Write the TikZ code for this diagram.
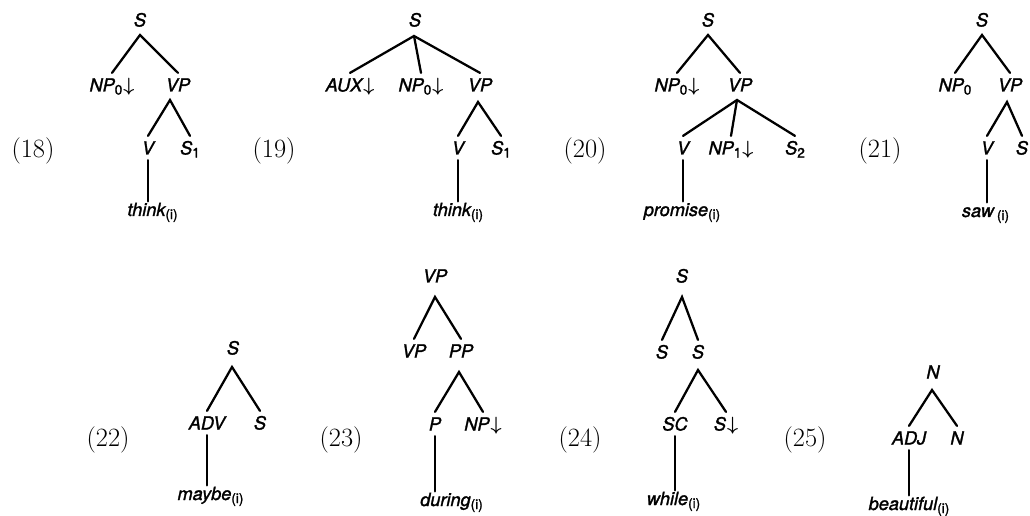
\documentclass[tikz,border=0pt]{standalone}
\usepackage{fontspec}
\newfontfamily\hv[FakeBold=1.5]{TeX Gyre Heros}
\newcommand\sub[1]{\raisebox{-0.32ex}{\fontsize{10.2}{12}\selectfont\upshape #1}}
\newcommand\dn{\hspace{0.8pt}$\boldsymbol{\downarrow}$}
\usepackage{amsmath,bm}
\renewcommand\dn{\hspace{0.8pt}$\bm{\downarrow}$}
\tikzset{
  cat/.style={font=\hv\itshape\fontsize{13.6}{16}\selectfont, text height=9.75pt, text depth=0pt, inner xsep=0pt, inner ysep=4pt},
  leaf/.style={font=\hv\itshape\fontsize{13.6}{16}\selectfont, anchor=base, text height=9.75pt, text depth=0pt, inner xsep=0pt, inner ysep=1pt},
  exno/.style={font=\fontsize{19.8}{24}\selectfont, inner sep=0pt},
  branch/.style={line width=1.7pt, line cap=round, line join=miter}
}
\begin{document}
\begin{tikzpicture}[x=0.75pt,y=-0.75pt]
\useasboundingbox (0,0) rectangle (1030,516);
% ---------- (18)
\node[exno] (l18) at (33,151) {(18)};
\node[cat] (s18) at (140,20) {S};
\node[cat] (np18) at (112,85) {NP\sub{0}\dn};
\node[cat] (vp18) at (178,85) {VP};
\node[cat] (v18) at (148,148) {V};
\node[cat] (sa18) at (190,148) {S\sub{1}};
\node[leaf] (w18) at (152.5,216) {think\sub{(i)}};
\coordinate (a18) at (140,35);
\coordinate (b18) at (170,100);
\draw[branch] (np18.north) -- (a18) -- (vp18.north);
\draw[branch] (v18.north) -- (b18) -- (sa18.north);
\draw[branch] (v18.south) -- (v18.south |- w18.north);
% ---------- (19)
\node[exno] (l19) at (274,151) {(19)};
\node[cat] (s19) at (415,20) {S};
\node[cat] (aux19) at (350,85) {AUX\dn};
\node[cat] (np19) at (421,85) {NP\sub{0}\dn};
\node[cat] (vp19) at (480,85) {VP};
\node[cat] (v19) at (458,148) {V};
\node[cat] (sa19) at (501,148) {S\sub{1}};
\node[leaf] (w19) at (458,216) {think\sub{(i)}};
\coordinate (a19) at (414,36);
\coordinate (b19) at (478,102);
\draw[branch] (aux19.north) -- (a19) -- (vp19.north);
\draw[branch] (a19) -- (np19.north);
\draw[branch] (v19.north) -- (b19) -- (sa19.north);
\draw[branch] (v19.south) -- (v19.south |- w19.north);
% ---------- (20)
\node[exno] (l20) at (585,151) {(20)};
\node[cat] (s20) at (708,20) {S};
\node[cat] (np20) at (677,85) {NP\sub{0}\dn};
\node[cat] (vp20) at (740,85) {VP};
\node[cat] (v20) at (683,148) {V};
\node[cat] (npa20) at (731,148) {NP\sub{1}\dn};
\node[cat] (sb20) at (795,148) {S\sub{2}};
\node[leaf] (w20) at (682,216) {promise\sub{(i)}};
\coordinate (a20) at (708,35);
\coordinate (b20) at (737,100);
\draw[branch] (np20.north) -- (a20) -- (vp20.north);
\draw[branch] (v20.north) -- (b20) -- (sb20.north);
\draw[branch] (b20) -- (npa20.north);
\draw[branch] (v20.south) -- (v20.south |- w20.north);
% ---------- (21)
\node[exno] (l21) at (880,151) {(21)};
\node[cat] (s21) at (982,20) {S};
\node[cat] (np21) at (955,85) {NP\sub{0}};
\node[cat] (vp21) at (1010,85) {VP};
\node[cat] (v21) at (987,148) {V};
\node[cat] (sa21) at (1022,148) {S};
\node[leaf] (w21) at (985.5,217) {saw\,\sub{(i)}};
\coordinate (a21) at (982,35);
\coordinate (b21) at (1007,102);
\draw[branch] (np21.north) -- (a21) -- (vp21.north);
\draw[branch] (v21.north) -- (b21) -- (sa21.north);
\draw[branch] (v21.south) -- (v21.south |- w21.north);
% ---------- (22)
\node[exno] (l22) at (108,440) {(22)};
\node[cat] (s22) at (233,348) {S};
\node[cat] (adv22) at (207,423) {ADV};
\node[cat] (sa22) at (260,423) {S};
\node[leaf] (w22) at (210.5,500) {maybe\sub{(i)}};
\coordinate (a22) at (232,367);
\draw[branch] (adv22.north) -- (a22) -- (sa22.north);
\draw[branch] (adv22.south) -- (adv22.south |- w22.north);
% ---------- (23)
\node[exno] (l23) at (341,440) {(23)};
\node[cat] (vp23) at (435,276) {VP};
\node[cat] (vpa23) at (414,351) {VP};
\node[cat] (pp23) at (461,351) {PP};
\node[cat] (p23) at (435,424) {P};
\node[cat] (np23) at (483,424) {NP\dn};
\node[leaf] (w23) at (451.5,506) {during\sub{(i)}};
\coordinate (a23) at (435,297);
\coordinate (b23) at (459,372);
\draw[branch] (vpa23.north) -- (a23) -- (pp23.north);
\draw[branch] (p23.north) -- (b23) -- (np23.north);
\draw[branch] (p23.south) -- (p23.south |- w23.north);
% ---------- (24)
\node[exno] (l24) at (580,440) {(24)};
\node[cat] (s24) at (682,276) {S};
\node[cat] (sa24) at (662,352) {S};
\node[cat] (sb24) at (698,352) {S};
\node[cat] (sc24) at (675,424) {SC};
\node[cat] (sd24) at (726,424) {S\dn};
\node[leaf] (w24) at (673.5,505) {while\sub{(i)}};
\coordinate (a24) at (682,297);
\coordinate (b24) at (698,370);
\draw[branch] (sa24.north) -- (a24) -- (sb24.north);
\draw[branch] (sc24.north) -- (b24) -- (sd24.north);
\draw[branch] (sc24.south) -- (sc24.south |- w24.north);
% ---------- (25)
\node[exno] (l25) at (805,440) {(25)};
\node[cat] (n25) at (933,372) {N};
\node[cat] (adj25) at (909,438) {ADJ};
\node[cat] (na25) at (957,438) {N};
\node[leaf] (w25) at (909,510) {beautiful\sub{(i)}};
\coordinate (a25) at (932,390);
\draw[branch] (adj25.north) -- (a25) -- (na25.north);
\draw[branch] (adj25.south) -- (adj25.south |- w25.north);
\end{tikzpicture}
\end{document}
